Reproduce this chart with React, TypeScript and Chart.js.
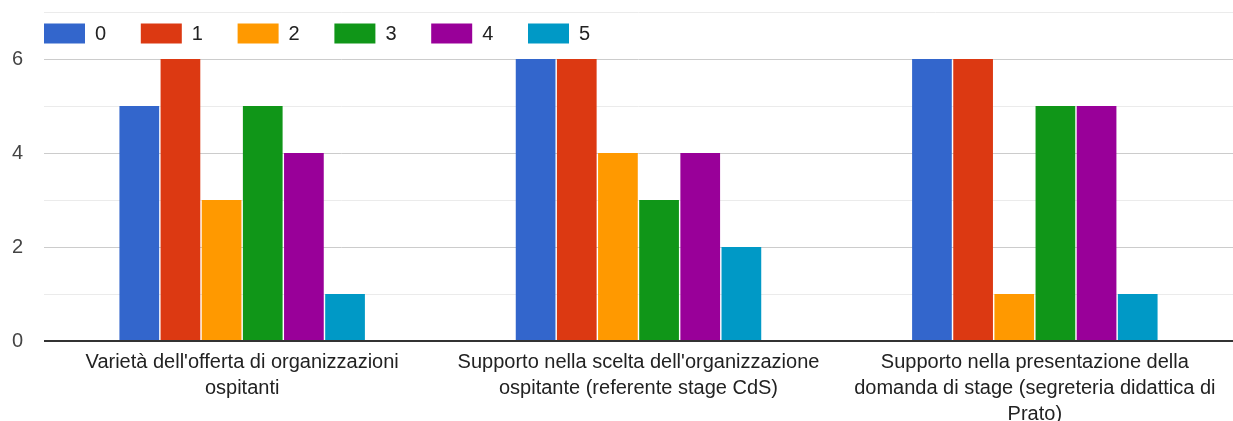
import React, { useEffect, useRef } from 'react';
import { Chart, registerables } from 'chart.js';

Chart.register(...registerables);

const categories: string[][] = [
  ["Varietà dell'offerta di organizzazioni", 'ospitanti'],
  ["Supporto nella scelta dell'organizzazione", 'ospitante (referente stage CdS)'],
  ['Supporto nella presentazione della', 'domanda di stage (segreteria didattica di', 'Prato)'],
];
const seriesLabels = ['0', '1', '2', '3', '4', '5'];
const series0 = [5, 6, 6];
const series1 = [6, 6, 6];
const series2 = [3, 4, 1];
const series3 = [5, 3, 5];
const series4 = [4, 4, 5];
const series5 = [1, 2, 1];
const seriesColors = ['#3366cc', '#dc3912', '#ff9900', '#109618', '#990099', '#0099c6'];
const yMin = 0;
const yMax = 7;

const FONT = 'Arial, "Liberation Sans", sans-serif';

const topLegend = {
  id: 'topLegend',
  afterDraw(chart: any) {
    const ctx = chart.ctx;
    ctx.save();
    ctx.font = `20px ${FONT}`;
    ctx.textBaseline = 'middle';
    ctx.textAlign = 'left';
    chart.data.datasets.forEach((ds: any, i: number) => {
      const x = 44 + i * 96.8;
      ctx.fillStyle = ds.backgroundColor;
      ctx.fillRect(x, 23.5, 41, 20);
      ctx.fillStyle = '#222';
      ctx.fillText(ds.label, x + 51, 34.5);
    });
    ctx.restore();
  },
};

export default function App() {
  const ref = useRef<HTMLCanvasElement>(null);
  useEffect(() => {
    if (!ref.current) return;
    const all = [series0, series1, series2, series3, series4, series5];
    const chart = new Chart(ref.current, {
      type: 'bar',
      data: {
        labels: categories,
        datasets: all.map((d, i) => ({
          label: seriesLabels[i],
          data: d,
          backgroundColor: seriesColors[i],
          borderWidth: 0,
          categoryPercentage: 0.623,
          barPercentage: 0.965,
        })),
      },
      options: {
        animation: false,
        responsive: false,
        maintainAspectRatio: false,
        layout: { padding: { top: 12, right: 0, left: 0, bottom: 0 } },
        plugins: {
          legend: { display: false },
          tooltip: { enabled: false },
        },
        scales: {
          x: {
            grid: { display: false },
            border: { display: false },
            ticks: {
              autoSkip: false,
              maxRotation: 0,
              minRotation: 0,
              padding: 0,
              color: '#222',
              font: { family: FONT, size: 20, lineHeight: 1.3 },
            },
            afterFit: (s: any) => {
              s.height = 80;
            },
          },
          y: {
            min: yMin,
            max: yMax,
            border: { display: false },
            grid: {
              drawTicks: false,
              color: (c: any) =>
                c.tick && c.tick.value === 0 ? '#333' : c.tick && c.tick.value % 2 === 0 ? '#cccccc' : '#ebebeb',
              lineWidth: (c: any) => (c.tick && c.tick.value === 0 ? 2 : 1),
            },
            ticks: {
              stepSize: 1,
              padding: 21,
              color: '#444',
              font: { family: FONT, size: 20 },
              callback: (v: any) => (Number(v) % 2 === 0 ? String(v) : ''),
            },
            afterFit: (s: any) => {
              s.width = 44;
              s.paddingTop = 0;
              s.paddingBottom = 0;
            },
          },
        },
      },
      plugins: [topLegend],
    });
    return () => chart.destroy();
  }, []);
  return (
    <div style={{ position: 'absolute', left: 0, top: 0, width: 1233, height: 421, background: '#fff' }}>
      <canvas ref={ref} width={1233} height={421} style={{ display: 'block' }} />
    </div>
  );
}
